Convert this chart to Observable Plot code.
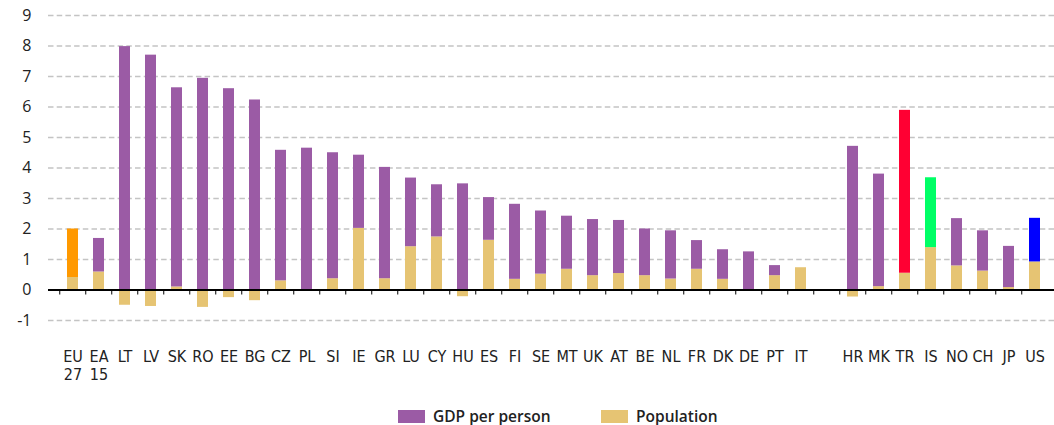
<!DOCTYPE html>
<html>
<head>
<meta charset="utf-8">
<script src="https://cdn.jsdelivr.net/npm/d3@7"></script>
<script src="https://cdn.jsdelivr.net/npm/@observablehq/plot@0.6"></script>
<style>
  html, body { margin: 0; padding: 0; background: #fff; }
  #chart svg { display: block; }
  #legend { height: 27px; position: relative; font-family: "Open Sans", "Noto Sans", sans-serif; font-weight: 600; font-size: 15.5px; color: #222; }
  .item { position: absolute; top: 7px; display: flex; align-items: center; }
  .sw { width: 27px; height: 13px; margin-right: 8px; }
</style>
</head>
<body>
<div id="chart"></div>
<div id="legend"></div>
<script>
const categories = ["EU\n27","EA\n15","LT","LV","SK","RO","EE","BG","CZ","PL","SI","IE","GR","LU","CY","HU","ES","FI","SE","MT","UK","AT","BE","NL","FR","DK","DE","PT","IT","","HR","MK","TR","IS","NO","CH","JP","US"];
const gdpPerPerson = [1.59,1.10,7.98,7.70,6.53,6.94,6.60,6.23,4.28,4.65,4.13,2.40,3.65,2.25,1.71,3.48,1.40,2.46,2.07,1.74,1.84,1.74,1.53,1.58,0.94,0.97,1.25,0.33,0.00,0,4.71,3.69,5.34,2.29,1.55,1.32,1.35,1.43];
const population = [0.41,0.59,-0.50,-0.54,0.10,-0.57,-0.25,-0.35,0.30,0.00,0.37,2.02,0.37,1.42,1.74,-0.22,1.63,0.35,0.52,0.68,0.47,0.54,0.47,0.36,0.68,0.35,0.00,0.47,0.73,0,-0.23,0.11,0.55,1.39,0.79,0.62,0.08,0.92];
const seriesNames = ["GDP per person","Population"];
const seriesColors = ["#9b5ba5","#e6c473"];
const highlightCategories = ["EU\n27","TR","IS","US"];
const highlightColors = ["#ff9900","#ff0033","#00ff66","#0000ff"];
const yTicks = [-1,0,1,2,3,4,5,6,7,8,9];

const rows = [];
categories.forEach((c, i) => {
  if (population[i] !== 0) rows.push({cat: c, series: seriesNames[1], value: population[i], color: seriesColors[1]});
  if (gdpPerPerson[i] !== 0) {
    const h = highlightCategories.indexOf(c);
    rows.push({cat: c, series: seriesNames[0], value: gdpPerPerson[i], color: h >= 0 ? highlightColors[h] : seriesColors[0]});
  }
});

const step = (1057 - 50) / categories.length;

const chart = Plot.plot({
  width: 1054,
  height: 398,
  marginLeft: 48,
  marginRight: 0,
  marginTop: 15,
  marginBottom: 78,
  style: {fontFamily: "'Open Sans', 'Noto Sans', sans-serif", color: "#222", background: "#fff"},
  x: {domain: categories, range: [50, 1057], paddingInner: 0.575, paddingOuter: 0.2875, label: null},
  y: {domain: [-1, 9], label: null},
  color: {type: "identity"},
  marks: [
    Plot.ruleY(yTicks.filter(d => d !== 0), {stroke: "#c4c4c4", strokeWidth: 1.5, strokeDasharray: "5.5,3.2"}),
    Plot.barY(rows, Plot.stackY({x: "cat", y: "value", fill: "color"})),
    Plot.ruleY([0], {stroke: "#000", strokeWidth: 2}),
    Plot.ruleX(categories, {x: d => d, y1: 0, y2: 0, insetBottom: -5, dx: -step / 2, stroke: "#000", strokeWidth: 1}),
    Plot.axisY({ticks: yTicks, tickSize: 0, tickPadding: 17, fontSize: 16, tickFormat: d => String(d)}),
    Plot.axisX({tickSize: 0, tickPadding: 28, fontSize: 16, lineHeight: 1.15, fontFamily: "'Liberation Sans Narrow', 'DejaVu Sans Condensed', 'Open Sans', sans-serif"})
  ]
});
document.getElementById("chart").appendChild(chart);

const legend = document.getElementById("legend");
const lefts = [398, 601];
seriesNames.forEach((name, i) => {
  const item = document.createElement("div");
  item.className = "item";
  item.style.left = lefts[i] + "px";
  const sw = document.createElement("div");
  sw.className = "sw";
  sw.style.background = seriesColors[i];
  const t = document.createElement("span");
  t.textContent = name;
  item.appendChild(sw);
  item.appendChild(t);
  legend.appendChild(item);
});
</script>
</body>
</html>
